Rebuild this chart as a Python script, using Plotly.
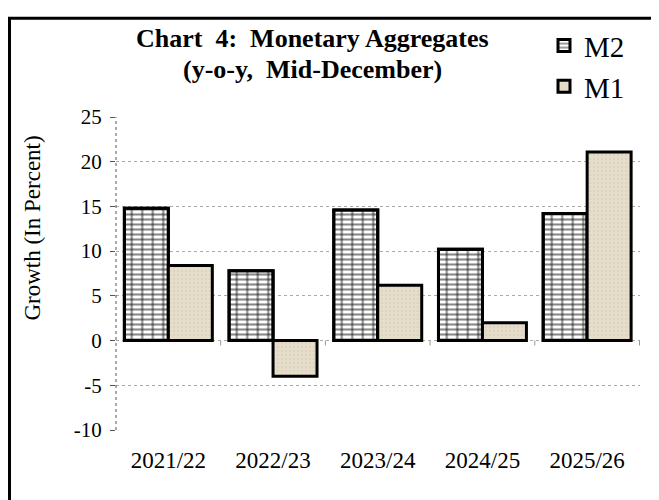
import plotly.graph_objects as go

categories = ["2021/22", "2022/23", "2023/24", "2024/25", "2025/26"]
m2_values = [14.8, 7.8, 14.6, 10.2, 14.2]
m1_values = [8.4, -4.0, 6.2, 2.0, 21.1]
y_ticks = [-10, -5, 0, 5, 10, 15, 20, 25]
y_tick_text = [str(v) for v in y_ticks]  # plain hyphen minus like the original

FONT = "Liberation Serif, Times New Roman, serif"
BAR_W = 0.42

# figure-pixel geometry helpers (plot area 108..632 x, 105..422 y)
L, R, T, B = 108, 27, 105, 78
PW, PH = 659 - L - R, 500 - T - B
def px(x):
    return (x - L) / PW
def py(y):
    return (500 - B - y) / PH

fig = go.Figure()

# M2: horizontal-line layer (legend entry)
fig.add_trace(go.Bar(
    x=categories, y=m2_values, name="M2",
    width=BAR_W, offset=-BAR_W,
    marker=dict(color="white",
                line=dict(color="black", width=3),
                pattern=dict(shape="-", size=5, solidity=0.42,
                             fgcolor="#111", bgcolor="white")),
))
# M2: vertical-line layer
fig.add_trace(go.Bar(
    x=categories, y=m2_values, name="M2", showlegend=False,
    width=BAR_W, offset=-BAR_W,
    marker=dict(color="rgba(0,0,0,0)",
                line=dict(color="black", width=3),
                pattern=dict(shape="|", size=10.5, solidity=0.2,
                             fgcolor="#111", bgcolor="rgba(0,0,0,0)")),
))
# M1
fig.add_trace(go.Bar(
    x=categories, y=m1_values, name="M1",
    width=BAR_W, offset=0,
    marker=dict(color="#E6DECB",
                line=dict(color="black", width=3),
                pattern=dict(shape=".", size=4, solidity=0.3,
                             fgcolor="#D3C9B3", bgcolor="#E6DECB")),
))

fig.update_layout(
    width=659, height=500,
    margin=dict(l=L, r=R, t=T, b=B),
    paper_bgcolor="white", plot_bgcolor="white",
    barmode="overlay",
    font=dict(family=FONT, color="black"),
    showlegend=True,
    legend=dict(x=px(536), xanchor="left", y=py(7), yanchor="top",
                font=dict(size=29, family=FONT),
                bgcolor="rgba(0,0,0,0)", tracegroupgap=0,
                itemwidth=30),
    annotations=[
        dict(text="<b>Chart\u00a0 4:\u00a0 Monetary Aggregates</b>", xref="paper", yref="paper",
             x=px(304), y=py(26), xanchor="center", yanchor="middle",
             showarrow=False, font=dict(size=26, family=FONT, color="black")),
        dict(text="<b>(y-o-y,\u00a0 Mid-December)</b>", xref="paper", yref="paper",
             x=px(304), y=py(57), xanchor="center", yanchor="middle",
             showarrow=False, font=dict(size=26, family=FONT, color="black")),
        # y-axis title (placed above the axis centre, as in the original)
        dict(text="Growth (In Percent)", xref="paper", yref="paper",
             x=px(25), y=py(218), xanchor="center", yanchor="middle",
             textangle=-90, showarrow=False,
             font=dict(size=23, family=FONT, color="black")),
    ],
    shapes=[
        # outer frame
        dict(type="rect", xref="paper", yref="paper",
             x0=px(1.5), x1=px(700), y0=py(520), y1=py(5),
             line=dict(color="black", width=3), fillcolor="rgba(0,0,0,0)", layer="below"),
        # dotted y axis line
        dict(type="line", xref="paper", yref="y", x0=0, x1=0, y0=-10, y1=25,
             line=dict(color="#555", width=1, dash="dot")),
    ] + [
        dict(type="line", xref="x", yref="y", x0=i + 0.5, x1=i + 0.5, y0=0, y1=-0.55,
             line=dict(color="#999", width=1))
        for i in range(len(categories))
    ],
)

fig.update_xaxes(
    type="category", showgrid=False, zeroline=False, showline=False,
    ticks="", tickfont=dict(size=23, family=FONT), ticklabelstandoff=14,
)
fig.update_yaxes(
    range=[-10, 25], tickvals=y_ticks, ticktext=y_tick_text,
    showgrid=True, gridcolor="#aaa",
    griddash="dot", gridwidth=1, zeroline=False, showline=False,
    ticks="outside", ticklen=5, tickcolor="#555",
    tickfont=dict(size=21, family=FONT), ticklabelstandoff=4,
)

fig.write_html("out.html")
